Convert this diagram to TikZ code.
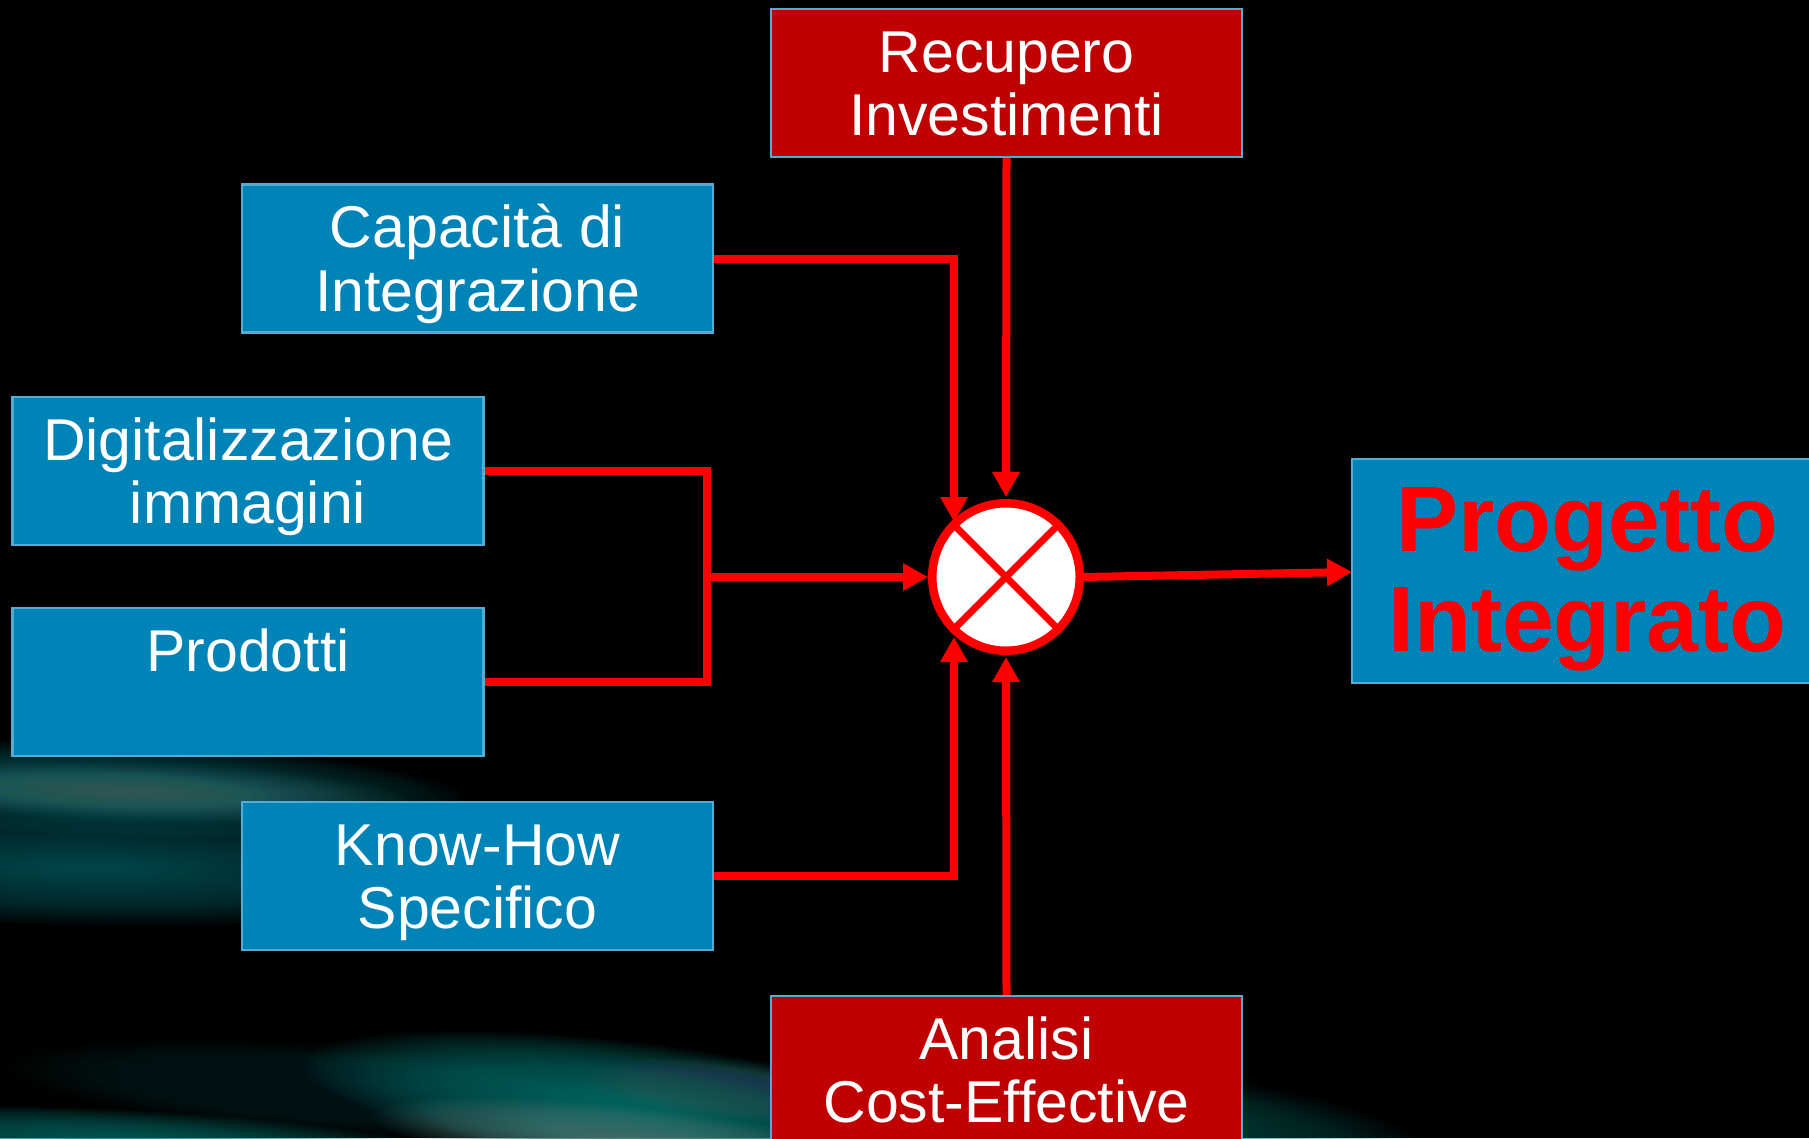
\documentclass[tikz,border=0pt]{standalone}
\usepackage{fontspec}
\setmainfont{Liberation Sans}
\usetikzlibrary{arrows.meta}
\definecolor{boxblue}{RGB}{0,132,184}
\definecolor{boxred}{RGB}{192,0,0}
\definecolor{boxedge}{RGB}{84,172,210}
\definecolor{linkred}{RGB}{255,0,0}
\definecolor{glowa}{RGB}{95,135,132}
\definecolor{glowb}{RGB}{0,118,112}
\definecolor{glowc}{RGB}{0,100,105}
\definecolor{glowd}{RGB}{70,105,125}
\newcommand{\softglow}[7]{% x y rx ry angle colour opacity
  \foreach \gs in {1.00,0.98,...,0.03}{
    \fill[#6, opacity=#7, rotate around={#5:(#1,#2)}] (#1,#2) ellipse [x radius=\gs*#3, y radius=\gs*#4];
  }}
\newcommand{\leadline}[1]{\rule{0pt}{\dimexpr.7\baselineskip+#1pt\relax}}
\tikzset{
  x=1pt, y=-1pt,
  basebox/.style={draw=boxedge, line width=2.2pt, minimum width=471pt, inner sep=0pt, align=center, text=white,
    font=\fontsize{59}{63.5}\selectfont},
  bluebox/.style={basebox, fill=boxblue, minimum height=148pt},
  redbox/.style={basebox, fill=boxred, minimum height=148pt},
  bigbox/.style={basebox, fill=boxblue, minimum height=224pt, text=linkred,
    font=\fontsize{93}{100}\selectfont\bfseries},
  link/.style={draw=linkred, line width=8pt},
  linkarrow/.style={link, -{Triangle[length=25pt,width=26pt]}},
}
\begin{document}
\begin{tikzpicture}
\clip (0,0) rectangle (1809,1138);
\fill[black] (0,0) rectangle (1809,1138);
% background streaks
\softglow{110}{790}{360}{48}{-2}{glowc}{0.035}
\softglow{130}{792}{280}{30}{-2}{glowa}{0.018}
\softglow{90}{868}{420}{58}{-1}{glowc}{0.03}
\softglow{340}{1090}{340}{45}{-4}{glowc}{0.012}
\softglow{640}{1105}{340}{62}{-7}{glowb}{0.045}
\softglow{730}{1090}{150}{30}{-5}{glowd}{0.02}
\softglow{630}{1142}{260}{36}{-6}{glowa}{0.03}
\softglow{130}{1142}{330}{32}{-3}{glowb}{0.035}
\softglow{1130}{1122}{300}{55}{-6}{glowb}{0.025}
% boxes
\node[redbox]  (recupero) at (1006.5,83) {\leadline{17}Recupero\\\strut Investimenti};
\node[bluebox] (capacita) at (477.5,258.5) {\leadline{17}Capacità di\\\strut Integrazione};
\node[bluebox] (digital) at (248,471) {\leadline{17}Digitalizzazione\\\strut immagini};
\node[bluebox] (prodotti) at (248,682) {\leadline{17}Prodotti\\\strut};
\node[bluebox] (knowhow) at (477.5,876) {\leadline{17}Know-How\\\strut Specifico};
\node[redbox]  (analisi) at (1006.5,1070) {\leadline{17}Analisi\\\strut Cost-Effective};
\node[bigbox]  (progetto) at (1587.5,571) {\leadline{21}Progetto\\\strut Integrato};
% summing junction
\node[circle, draw=linkred, fill=white, line width=8.5pt, minimum size=147.5pt, inner sep=0pt] (sum) at (1006,577) {};
\draw[linkred, line width=7pt] (sum.north west) -- (sum.south east);
\draw[linkred, line width=7pt] (sum.north east) -- (sum.south west);
% arrow tips
\coordinate (tipcap) at (954,522);
\coordinate (tipknow) at (954,637);
\coordinate (tipleft) at (928,577);
\coordinate (tiptop) at (1006,497);
\coordinate (tipbottom) at (1006,657);
\coordinate (tipout) at (1352,572);
\coordinate (bendcap) at (954,258.5);
\coordinate (bendknow) at (954,876);
\coordinate (joinup) at (707,471);
\coordinate (joindown) at (707,682);
\coordinate (joinmid) at (707,577);
% connectors
\draw[linkarrow] (capacita.east) -- (bendcap) -- (tipcap);
\draw[linkarrow] (knowhow.east) -- (bendknow) -- (tipknow);
\draw[linkarrow] (recupero.south) -- (tiptop);
\draw[linkarrow] (analisi.north) -- (tipbottom);
\draw[link, line join=miter] (digital.east) -- (joinup) -- (joindown) -- (prodotti.east);
\draw[linkarrow] (joinmid) -- (tipleft);
\draw[linkarrow] (sum.east) -- (tipout);
\end{tikzpicture}
\end{document}
